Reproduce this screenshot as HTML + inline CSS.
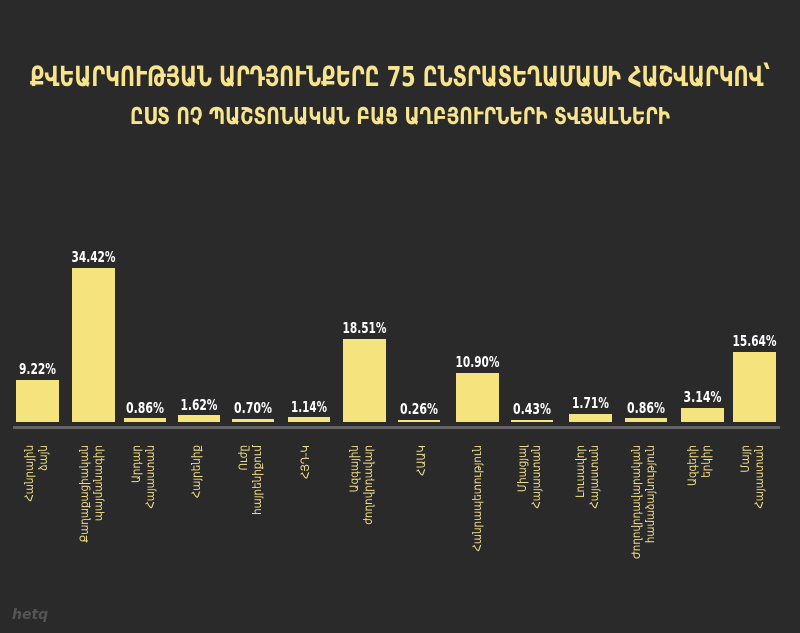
<!DOCTYPE html>
<html><head><meta charset="utf-8"><style>
html,body{margin:0;padding:0;background:#2b2a2a;}
svg{display:block}
.t{font-family:"DejaVu Sans Condensed","DejaVu Sans",sans-serif;font-weight:bold;fill:#f7e48c}
.v{font-family:"DejaVu Sans Condensed","Liberation Sans Narrow","Liberation Sans",sans-serif;font-weight:bold;fill:#fff;font-size:15px}
.l{font-family:"DejaVu Sans Condensed","DejaVu Sans",sans-serif;fill:#f0dd86;font-size:11.5px}
</style></head><body>
<svg width="800" height="633" viewBox="0 0 800 633">
<rect width="800" height="633" fill="#2b2a2a"/>
<text class="t" x="400" y="86" text-anchor="middle" font-size="28" textLength="740" lengthAdjust="spacingAndGlyphs">ՔՎԵԱՐԿՈՒԹՅԱՆ ԱՐԴՅՈՒՆՔԵՐԸ 75 ԸՆՏՐԱՏԵՂԱՄԱՍԻ ՀԱՇՎԱՐԿՈՎ՝</text>
<text class="t" x="400" y="124" text-anchor="middle" font-size="23" textLength="540" lengthAdjust="spacingAndGlyphs">ԸՍՏ ՈՉ ՊԱՇՏՈՆԱԿԱՆ ԲԱՑ ԱՂԲՅՈՒՐՆԵՐԻ ՏՎՅԱԼՆԵՐԻ</text>
<rect x="13" y="426" width="767" height="3" fill="#636363"/>
<g fill="#f5e47d">
<rect x="16" y="380" width="43" height="42"/>
<rect x="72" y="268" width="43" height="154"/>
<rect x="124" y="418" width="42" height="4"/>
<rect x="178" y="415" width="42" height="7"/>
<rect x="232" y="419" width="42" height="3"/>
<rect x="288" y="417" width="42" height="5"/>
<rect x="343" y="339" width="43" height="83"/>
<rect x="398" y="420" width="42" height="2"/>
<rect x="456" y="373" width="43" height="49"/>
<rect x="511" y="420" width="42" height="2"/>
<rect x="569" y="414" width="43" height="8"/>
<rect x="625" y="418" width="42" height="4"/>
<rect x="681" y="408" width="43" height="14"/>
<rect x="733" y="352" width="43" height="70"/>
</g>
<g class="v" text-anchor="middle" lengthAdjust="spacingAndGlyphs">
<text x="37.5" y="374" textLength="37" lengthAdjust="spacingAndGlyphs">9.22%</text>
<text x="93.5" y="262" textLength="44" lengthAdjust="spacingAndGlyphs">34.42%</text>
<text x="145" y="413" textLength="38" lengthAdjust="spacingAndGlyphs">0.86%</text>
<text x="199" y="410" textLength="37" lengthAdjust="spacingAndGlyphs">1.62%</text>
<text x="253" y="413" textLength="38" lengthAdjust="spacingAndGlyphs">0.70%</text>
<text x="309" y="412" textLength="36" lengthAdjust="spacingAndGlyphs">1.14%</text>
<text x="364.5" y="333" textLength="44" lengthAdjust="spacingAndGlyphs">18.51%</text>
<text x="419" y="414" textLength="38" lengthAdjust="spacingAndGlyphs">0.26%</text>
<text x="477.5" y="367" textLength="44" lengthAdjust="spacingAndGlyphs">10.90%</text>
<text x="532" y="414" textLength="38" lengthAdjust="spacingAndGlyphs">0.43%</text>
<text x="590.5" y="408" textLength="37" lengthAdjust="spacingAndGlyphs">1.71%</text>
<text x="646" y="413" textLength="38" lengthAdjust="spacingAndGlyphs">0.86%</text>
<text x="702.5" y="402" textLength="38" lengthAdjust="spacingAndGlyphs">3.14%</text>
<text x="754.5" y="346" textLength="44" lengthAdjust="spacingAndGlyphs">15.64%</text>
</g>
<g class="l" text-anchor="end">
<text transform="translate(33,445) rotate(-90)">Հանրային</text>
<text transform="translate(47,445) rotate(-90)">ձայն</text>
<text transform="translate(88,445) rotate(-90)">Քաղաքացիական</text>
<text transform="translate(102,445) rotate(-90)">պայմանագիր</text>
<text transform="translate(140,445) rotate(-90)">Արդար</text>
<text transform="translate(154,445) rotate(-90)">Հայաստան</text>
<text transform="translate(200,445) rotate(-90)">Հայրենիք</text>
<text transform="translate(247,445) rotate(-90)">Ուժը</text>
<text transform="translate(261,445) rotate(-90)">հայրենիքում</text>
<text transform="translate(309,445) rotate(-90)">ՀՅԴ-Կ</text>
<text transform="translate(358,445) rotate(-90)">Ազգային</text>
<text transform="translate(372,445) rotate(-90)">ժողովրդավար</text>
<text transform="translate(425,445) rotate(-90)">ՀԱԱԿ</text>
<text transform="translate(481,445) rotate(-90)">Հանրապետություն</text>
<text transform="translate(526,445) rotate(-90)">Միացյալ</text>
<text transform="translate(540,445) rotate(-90)">Հայաստան</text>
<text transform="translate(584,445) rotate(-90)">Լուսավոր</text>
<text transform="translate(598,445) rotate(-90)">Հայաստան</text>
<text transform="translate(640,445) rotate(-90)">Ժողովրդավարական</text>
<text transform="translate(654,445) rotate(-90)">համաձայնություն</text>
<text transform="translate(696,445) rotate(-90)">Ազգերի</text>
<text transform="translate(710,445) rotate(-90)">երկիր</text>
<text transform="translate(749,445) rotate(-90)">Մայր</text>
<text transform="translate(763,445) rotate(-90)">Հայաստան</text>
</g>
<text x="12" y="619" font-family="DejaVu Sans" font-style="italic" font-weight="bold" font-size="14" fill="#555">hetq</text>
</svg>
</body></html>
